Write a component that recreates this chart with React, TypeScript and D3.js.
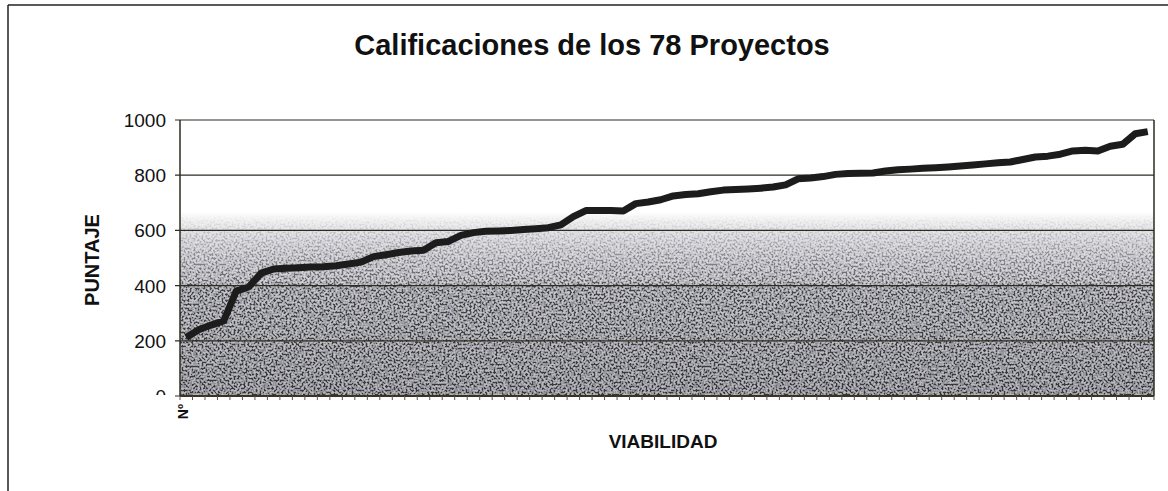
import * as d3 from 'd3';

const title = 'Calificaciones de los 78 Proyectos';
const yLabel = 'PUNTAJE';
const xLabel = 'VIABILIDAD';
const firstCategoryLabel = 'Nº';

const yTicks = [0, 200, 400, 600, 800, 1000];

// puntaje por proyecto, ordenado de menor a mayor
const scores = [
  212, 240, 257, 272, 380, 395, 445, 460, 463, 465,
  467, 468, 472, 478, 485, 505, 512, 520, 525, 528,
  555, 560, 582, 592, 597, 598, 600, 603, 606, 610,
  620, 650, 672, 672, 672, 670, 697, 703, 711, 725,
  730, 733, 740, 746, 748, 750, 753, 757, 765, 787,
  790, 795, 803, 806, 807, 808, 815, 820, 822, 825,
  827, 830, 833, 837, 841, 845, 848, 857, 866, 869,
  876, 888, 890, 888, 905, 912, 950, 958,
];
const projects = scores.map((_, i) => String(i + 1));

const W = 1168;
const H = 491;
const plot = { left: 180, right: 1154, top: 120, bottom: 396 };
const font = '"Liberation Sans", Arial, sans-serif';

export default function App() {
  const x = d3.scalePoint<string>().domain(projects).range([plot.left, plot.right]).padding(0.5);
  const y = d3.scaleLinear().domain([0, 1000]).range([plot.bottom, plot.top]);
  const line = d3
    .line<number>()
    .x((_, i) => x(projects[i]) as number)
    .y((d) => y(d));

  const step = x.step();
  const tickXs = d3.range(projects.length + 1).map((k) => plot.left + k * step);
  const pw = plot.right - plot.left;
  const ph = plot.bottom - plot.top;

  return (
    <div style={{ position: 'absolute', left: 0, top: 0 }}>
      <svg width={W} height={H} style={{ display: 'block', background: '#fff' }}>
        <defs>
          <linearGradient id="bg" x1="0" y1="0" x2="0" y2="1">
            <stop offset="0" stopColor="#ffffff" />
            <stop offset="0.33" stopColor="#ffffff" />
            <stop offset="0.42" stopColor="#dedee2" />
            <stop offset="0.585" stopColor="#b0b0b4" />
            <stop offset="0.6" stopColor="#8e8e92" />
            <stop offset="1" stopColor="#6e6e72" />
          </linearGradient>
          <linearGradient id="grainMask" x1="0" y1="0" x2="0" y2="1">
            <stop offset="0" stopColor="#000" />
            <stop offset="0.34" stopColor="#000" />
            <stop offset="0.46" stopColor="#777" />
            <stop offset="0.62" stopColor="#fff" />
            <stop offset="1" stopColor="#fff" />
          </linearGradient>
          <mask id="m">
            <rect x={plot.left} y={plot.top} width={pw} height={ph} fill="url(#grainMask)" />
          </mask>
          <filter id="grain" x="0" y="0" width="100%" height="100%">
            <feTurbulence type="fractalNoise" baseFrequency="0.5" numOctaves="3" seed="7" />
            <feColorMatrix
              type="matrix"
              values="4.5 0 0 0 -1.8  4.5 0 0 0 -1.8  4.5 0 0 0 -1.75  0 0 0 0 0.5"
            />
          </filter>
          <clipPath id="zeroClip">
            <rect x={0} y={0} width={plot.left} height={plot.bottom - 1} />
          </clipPath>
        </defs>

        {/* marco exterior */}
        <line x1={8} y1={5} x2={W} y2={5} stroke="#222" strokeWidth={1.5} />
        <line x1={8} y1={5} x2={8} y2={H} stroke="#222" strokeWidth={1.5} />

        <text x={592} y={55} textAnchor="middle" fontFamily={font} fontWeight="bold" fontSize={29} fill="#111">
          {title}
        </text>

        {/* fondo del área de trazado */}
        <rect x={plot.left} y={plot.top} width={pw} height={ph} fill="url(#bg)" />
        <rect x={plot.left} y={plot.top} width={pw} height={ph} filter="url(#grain)" mask="url(#m)" />

        {/* líneas de división */}
        {yTicks.map((t) => (
          <line key={t} x1={plot.left - 5} x2={plot.right} y1={y(t)} y2={y(t)} stroke="#2e2b22" strokeWidth={1.2} />
        ))}
        <line x1={plot.left} x2={plot.left} y1={plot.top} y2={plot.bottom} stroke="#2e2b22" strokeWidth={1.5} />
        <line x1={plot.right} x2={plot.right} y1={plot.top} y2={plot.bottom} stroke="#2e2b22" strokeWidth={1.5} />
        <line x1={plot.left} x2={plot.right} y1={plot.bottom} y2={plot.bottom} stroke="#3a3320" strokeWidth={2} />

        {tickXs.map((tx, k) => (
          <line key={k} x1={tx} x2={tx} y1={plot.bottom} y2={plot.bottom + 4} stroke="#555" strokeWidth={1} />
        ))}

        {yTicks.map((t) => (
          <text
            key={t}
            x={plot.left - 14}
            y={y(t) + 7}
            textAnchor="end"
            fontFamily={font}
            fontSize={19}
            fill="#111"
            clipPath={t === 0 ? 'url(#zeroClip)' : undefined}
          >
            {t}
          </text>
        ))}

        <text
          transform={`translate(${(x(projects[0]) as number) - 2},${plot.bottom + 8}) rotate(-90)`}
          textAnchor="end"
          dominantBaseline="middle"
          fontFamily={font}
          fontWeight="bold"
          fontSize={14}
          fill="#111"
        >
          {firstCategoryLabel}
        </text>

        <path d={line(scores) ?? ''} fill="none" stroke="#1c1c1c" strokeWidth={7} strokeLinejoin="round" />

        <text
          transform={`translate(99,${(plot.top + plot.bottom) / 2 + 2}) rotate(-90)`}
          textAnchor="middle"
          fontFamily={font}
          fontWeight="bold"
          fontSize={20}
          fill="#111"
        >
          {yLabel}
        </text>
        <text x={663} y={448} textAnchor="middle" fontFamily={font} fontWeight="bold" fontSize={19} fill="#111">
          {xLabel}
        </text>
      </svg>
    </div>
  );
}
